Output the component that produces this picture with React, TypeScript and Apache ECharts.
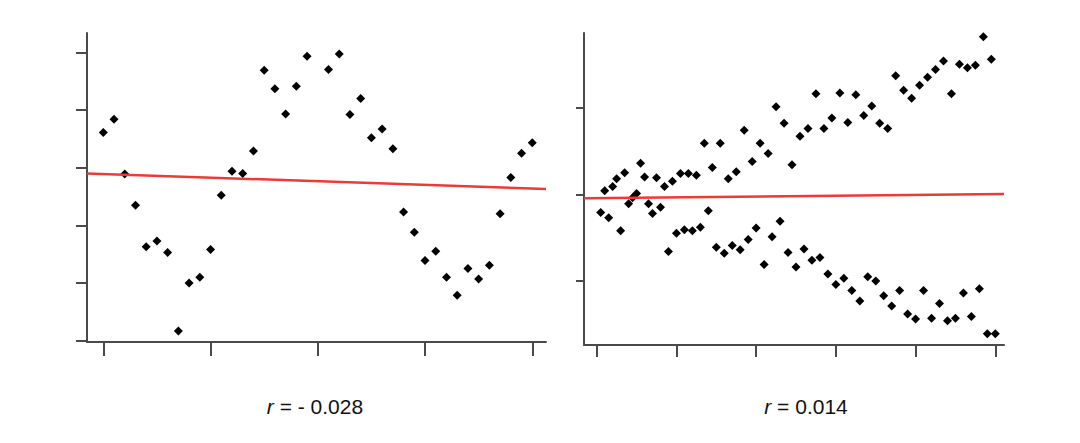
import React, { useEffect, useRef } from "react";
import * as echarts from "echarts";

// Left panel: sinusoid-like scatter (x = 0..40)
const leftX = [0,1,2,3,4,5,6,7,8,9,10,11,12,13,14,15,16,17,18,19,20,21,22,23,24,25,26,27,28,29,30,31,32,33,34,35,36,37,38,39,40];
const leftY = [3.61,3.84,2.89,2.35,1.63,1.73,1.53,0.17,1.00,1.10,1.58,2.52,2.94,2.90,3.29,4.69,4.37,3.93,4.41,4.93,5.45,4.70,4.97,3.92,4.20,3.52,3.67,3.33,2.23,1.88,1.39,1.55,1.10,0.79,1.25,1.07,1.31,2.20,2.83,3.25,3.43];
const leftFitX = [-1.52, 41.28];
const leftFitY = [2.90, 2.63];
const leftXTicks = [0, 10, 20, 30, 40];
const leftYTicks = [0, 1, 2, 3, 4, 5];
const leftLabel = "= - 0.028";

// Right panel: fan-shaped scatter (x = 1..100)
const rightX = [1,2,3,4,5,6,7,8,9,10,11,12,13,14,15,16,17,18,19,20,21,22,23,24,25,26,27,28,29,30,31,32,33,34,35,36,37,38,39,40,41,42,43,44,45,46,47,48,49,50,51,52,53,54,55,56,57,58,59,60,61,62,63,64,65,66,67,68,69,70,71,72,73,74,75,76,77,78,79,80,81,82,83,84,85,86,87,88,89,90,91,92,93,94,95,96,97,98,99,100];
const rightY = [-0.21,0.04,-0.27,0.09,0.18,-0.42,0.25,-0.11,-0.04,0.01,0.36,0.20,-0.11,-0.22,0.19,-0.15,0.09,-0.66,0.15,-0.45,0.24,-0.41,0.24,-0.42,0.22,-0.38,0.59,-0.19,0.31,-0.61,0.59,-0.68,0.18,-0.59,0.26,-0.64,0.74,-0.52,0.38,-0.39,0.59,-0.81,0.47,-0.49,1.01,-0.31,0.82,-0.67,0.34,-0.84,0.67,-0.63,0.76,-0.76,1.16,-0.73,0.76,-0.92,0.88,-1.04,1.17,-0.97,0.83,-1.11,1.15,-1.23,0.91,-0.95,1.02,-1.00,0.82,-1.17,0.76,-1.29,1.37,-1.11,1.20,-1.38,1.11,-1.44,1.26,-1.11,1.35,-1.43,1.44,-1.26,1.54,-1.46,1.16,-1.43,1.50,-1.14,1.46,-1.41,1.49,-1.09,1.82,-1.61,1.56,-1.61];
const rightFitX = [-3.19, 102.18];
const rightFitY = [-0.046, 0.004];
const rightXTicks = [0, 20, 40, 60, 80, 100];
const rightYTicks = [-1, 0, 1];
const rightLabel = "= 0.014";

const AXIS_COLOR = "#4a4a4a";
const FIT_COLOR = "#ec3a35";
const FONT = "'Liberation Sans', Arial, Helvetica, sans-serif";

function zip(xs: number[], ys: number[]) {
  return xs.map((x, i) => [x, ys[i]]);
}

function makeAxis(gridIndex: number, min: number, max: number, ticks: number[], tickLen: number) {
  return {
    type: "value",
    gridIndex,
    min,
    max,
    splitLine: { show: false },
    axisLine: { show: true, onZero: false, lineStyle: { color: AXIS_COLOR, width: 2 } },
    axisTick: { show: true, inside: false, length: tickLen, customValues: ticks, lineStyle: { color: AXIS_COLOR, width: 2 } },
    axisLabel: { show: false },
  };
}

function labelText(x: number, label: string) {
  return {
    type: "text",
    x,
    y: 406,
    style: {
      text: "{i|r} " + label,
      fontSize: 21,
      fontFamily: FONT,
      fill: "#111111",
      align: "center",
      verticalAlign: "middle",
      rich: { i: { fontStyle: "italic", fontSize: 21, fontFamily: FONT, fill: "#111111" } },
    },
  };
}

export default function App() {
  const ref = useRef<HTMLDivElement>(null);

  useEffect(() => {
    if (!ref.current) return;
    const chart = echarts.init(ref.current, null, { renderer: "svg" });
    const scatterStyle = { color: "#000000", opacity: 1 };
    chart.setOption({
      animation: false,
      backgroundColor: "#ffffff",
      grid: [
        { left: 87, top: 33, width: 459, height: 309 },
        { left: 584, top: 33, width: 420, height: 312 },
      ],
      xAxis: [
        makeAxis(0, -1.52, 41.28, leftXTicks, 14),
        makeAxis(1, -3.19, 102.18, rightXTicks, 12),
      ],
      yAxis: [
        makeAxis(0, -0.0225, 5.335, leftYTicks, 11),
        makeAxis(1, -1.739, 1.862, rightYTicks, 8),
      ],
      series: [
        {
          type: "scatter",
          xAxisIndex: 0,
          yAxisIndex: 0,
          symbol: "diamond",
          symbolSize: 9,
          itemStyle: scatterStyle,
          data: zip(leftX, leftY),
          silent: true,
        },
        {
          type: "line",
          xAxisIndex: 0,
          yAxisIndex: 0,
          showSymbol: false,
          lineStyle: { color: FIT_COLOR, width: 2.5 },
          data: zip(leftFitX, leftFitY),
          silent: true,
          z: 3,
        },
        {
          type: "scatter",
          xAxisIndex: 1,
          yAxisIndex: 1,
          symbol: "diamond",
          symbolSize: 9,
          itemStyle: scatterStyle,
          data: zip(rightX, rightY),
          silent: true,
        },
        {
          type: "line",
          xAxisIndex: 1,
          yAxisIndex: 1,
          showSymbol: false,
          lineStyle: { color: FIT_COLOR, width: 2.5 },
          data: zip(rightFitX, rightFitY),
          silent: true,
          z: 3,
        },
      ],
      graphic: [labelText(315, leftLabel), labelText(806, rightLabel)],
    });
    return () => chart.dispose();
  }, []);

  return (
    <div
      ref={ref}
      style={{ position: "fixed", left: 0, top: 0, width: 1080, height: 443, background: "#fff" }}
    />
  );
}
